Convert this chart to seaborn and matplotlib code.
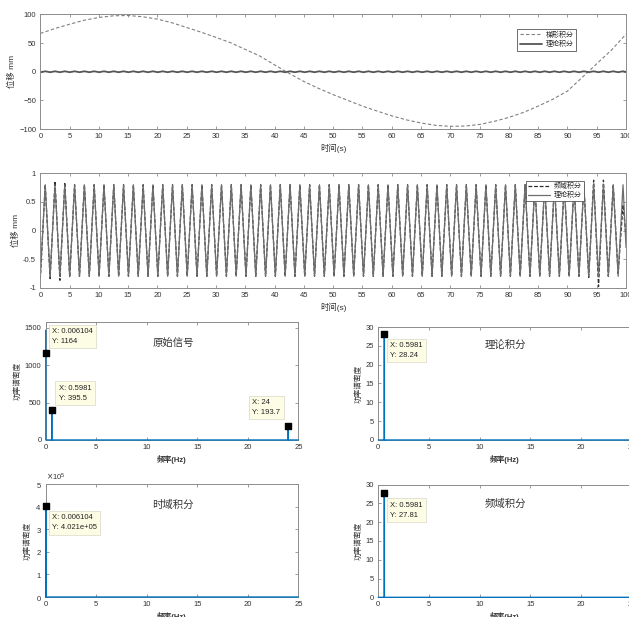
import numpy as np
import pandas as pd
import seaborn as sns
import matplotlib
matplotlib.use("Agg")
import matplotlib.pyplot as plt
from matplotlib.ticker import MultipleLocator, ScalarFormatter

# Top panel: trapezoid integration, read every 2.5 s from the picture
trap_mm = [66.9, 75.6, 83.0, 90.0, 94.8, 97.7, 98.3, 96.0, 91.9, 85.5,
           77.3, 69.0, 60.0, 50.6, 39.0, 27.3, 12.0, -3.0, -17.0, -29.0,
           -40.0, -50.0, -60.0, -68.6, -77.0, -84.0, -89.5, -93.6, -95.3, -94.8,
           -92.0, -86.6, -79.7, -71.0, -60.0, -48.0, -33.7, -10.0, 14.0, 37.8,
           65.7]
t_trap = np.linspace(0, 100, len(trap_mm))

# Second panel: peaks / troughs of the oscillation (0.5981 Hz -> 0.836 s apart)
half_period = 0.836
theory_ext = [-0.8, 0.8] * 60 + [-0.3]
freq_ext = ([-0.85, 0.80, -0.84, 0.86, -0.87, 0.84, -0.82]
            + [0.8, -0.8] * 52 + [0.8]
            + [-0.82, 0.88, -0.98, 0.88, -0.80, 0.80, -0.75, 0.45]
            + [-0.1])
t_ext = list(np.arange(120) * half_period) + [100]

# Spectra (polyline through the visible points)
raw_f = [0, 0.006104, 0.0122, 0.592, 0.5981, 0.6042, 23.994, 24.0, 24.006, 25]
raw_p = [1470, 1164, 0, 0, 395.5, 0, 0, 193.7, 0, 0]
theo_f = [0, 0.592, 0.5981, 0.6042, 25]
theo_p = [0, 0, 28.24, 0, 0]
time_f = [0, 0.006104, 0.0122, 25]
time_p = [0, 4.021e5, 0, 0]
fdom_f = [0, 0.592, 0.5981, 0.6042, 25]
fdom_p = [0, 0, 27.81, 0, 0]

tips_raw = [(0.006104, 1164, "X: 0.006104\nY: 1164"),
            (0.5981, 395.5, "X: 0.5981\nY: 395.5"),
            (24, 193.7, "X: 24\nY: 193.7")]

sns.set_theme(style="ticks")
plt.rcParams['font.family'] = ['Liberation Sans', 'Noto Sans CJK SC']
plt.rcParams.update({
    'axes.edgecolor': '#8c8c8c', 'axes.linewidth': 0.7,
    'axes.facecolor': 'white', 'figure.facecolor': 'white',
    'xtick.direction': 'in', 'ytick.direction': 'in',
    'xtick.top': True, 'ytick.right': True,
    'xtick.major.size': 2.5, 'ytick.major.size': 2.5,
    'xtick.major.width': 0.6, 'ytick.major.width': 0.6,
    'xtick.color': '#8c8c8c', 'ytick.color': '#8c8c8c',
    'xtick.labelcolor': '#333333', 'ytick.labelcolor': '#333333',
    'xtick.labelsize': 5.5, 'ytick.labelsize': 5.5,
    'xtick.major.pad': 3, 'ytick.major.pad': 3,
    'axes.labelsize': 6, 'axes.labelcolor': '#333333',
    'axes.labelpad': 2.5,
})

fig = plt.figure(figsize=(6.29, 6.17), dpi=100)

# ---- top panel
ax1 = fig.add_axes([0.0641, 0.7909, 0.9312, 0.1856])
sns.lineplot(x=t_trap, y=trap_mm, ax=ax1, color='#808080', lw=0.8,
             label='梯形积分', estimator=None, sort=False)
ax1.lines[-1].set_dashes([3, 2])
sns.lineplot(x=t_ext, y=theory_ext, ax=ax1, color='#555555', lw=1.3,
             label='理论积分', estimator=None, sort=False)
ax1.set_xlim(0, 100)
ax1.set_ylim(-100, 100)
ax1.xaxis.set_major_locator(MultipleLocator(5))
ax1.yaxis.set_major_locator(MultipleLocator(50))
ax1.set_xlabel('时间(s)')
ax1.set_ylabel('位移 mm')
ax1.legend(loc='upper right', bbox_to_anchor=(0.921, 0.908), fontsize=5,
           frameon=True, fancybox=False, edgecolor='#555555', framealpha=1,
           handlelength=3.2, borderpad=0.4, labelspacing=0.3, handletextpad=0.5)
ax1.get_legend().get_frame().set_linewidth(0.6)

# ---- second panel
ax2 = fig.add_axes([0.0641, 0.5337, 0.9312, 0.1854])
sns.lineplot(x=t_ext, y=freq_ext, ax=ax2, color='#2a2a2a', lw=0.9,
             label='频域积分', estimator=None, sort=False)
ax2.lines[-1].set_dashes([3, 1.5])
sns.lineplot(x=t_ext, y=theory_ext, ax=ax2, color='#6e6e6e', lw=0.9,
             label='理论积分', estimator=None, sort=False)
ax2.set_xlim(0, 100)
ax2.set_ylim(-1, 1)
ax2.xaxis.set_major_locator(MultipleLocator(5))
ax2.yaxis.set_major_locator(MultipleLocator(0.5))
ax2.yaxis.set_major_formatter(plt.FuncFormatter(lambda v, p: f'{v:g}'))
ax2.set_xlabel('时间(s)')
ax2.set_ylabel('位移 mm')
ax2.legend(loc='upper right', bbox_to_anchor=(0.934, 0.962), fontsize=5,
           frameon=True, fancybox=False, edgecolor='#555555', framealpha=1,
           handlelength=3.2, borderpad=0.3, labelspacing=0.2, handletextpad=0.5)
ax2.get_legend().get_frame().set_linewidth(0.6)

tip_box = dict(boxstyle='square,pad=0.45', facecolor='#fdfde6',
               edgecolor='#d8d8c8', lw=0.5)


def spectrum(rect, f, p, ylim, ystep, title, title_pos, tips):
    ax = fig.add_axes(rect)
    sns.lineplot(x=f, y=p, ax=ax, color='#0072BD', lw=1.0,
                 estimator=None, sort=False, clip_on=False, zorder=5)
    for x, y, txt, tx, ty in tips:
        ax.scatter([x], [y], marker='s', s=22, color='black', zorder=6,
                   clip_on=False)
        ax.text(tx, ty, txt, transform=ax.transAxes, fontsize=5.5,
                ha='left', va='center', linespacing=1.6, color='#222222',
                bbox=tip_box, zorder=7)
    ax.set_xlim(0, 25)
    ax.set_ylim(*ylim)
    ax.xaxis.set_major_locator(MultipleLocator(5))
    ax.yaxis.set_major_locator(MultipleLocator(ystep))
    ax.set_xlabel('频率(Hz)', fontsize=5.5, fontweight='bold')
    ax.set_ylabel('功率谱密度', fontsize=5.5)
    ax.text(title_pos[0], title_pos[1], title, transform=ax.transAxes,
            fontsize=7.5, ha='center', va='center', color='#333333')
    return ax


spectrum([0.0727, 0.2869, 0.4016, 0.1912], raw_f, raw_p, (0, 1580), 500,
         '原始信号', (0.505, 0.82),
         [(tips_raw[0][0], tips_raw[0][1], tips_raw[0][2], 0.025, 0.877),
          (tips_raw[1][0], tips_raw[1][1], tips_raw[1][2], 0.051, 0.396),
          (tips_raw[2][0], tips_raw[2][1], tips_raw[2][2], 0.817, 0.275)])

spectrum([0.6014, 0.2869, 0.403, 0.1831], theo_f, theo_p, (0, 30), 5,
         '理论积分', (0.5, 0.84),
         [(0.5981, 28.24, "X: 0.5981\nY: 28.24", 0.047, 0.792)])

ax5 = spectrum([0.0727, 0.0324, 0.4016, 0.1827], time_f, time_p, (0, 5e5), 1e5,
               '时域积分', (0.505, 0.816),
               [(0.006104, 4.021e5, "X: 0.006104\nY: 4.021e+05", 0.025, 0.657)])
fmt = ScalarFormatter(useMathText=True)
fmt.set_powerlimits((0, 0))
ax5.yaxis.set_major_formatter(fmt)
ax5.yaxis.get_offset_text().set_fontsize(5.5)

spectrum([0.6014, 0.0319, 0.403, 0.1826], fdom_f, fdom_p, (0, 30), 5,
         '频域积分', (0.5, 0.832),
         [(0.5981, 27.81, "X: 0.5981\nY: 27.81", 0.047, 0.775)])

fig.savefig('out.png', dpi=100)
